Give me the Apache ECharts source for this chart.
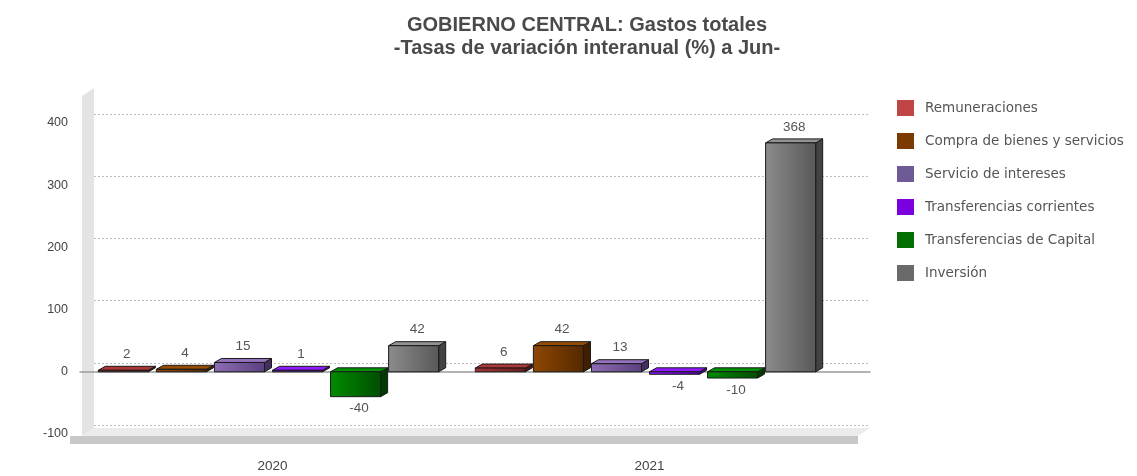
<!DOCTYPE html>
<html>
<head>
<meta charset="utf-8">
<script src="https://cdn.jsdelivr.net/npm/echarts@6/dist/echarts.min.js"></script>
<style>
  html, body { margin: 0; padding: 0; background: #fff; }
  #chart { width: 1137px; height: 476px; }
</style>
</head>
<body>
<div id="chart"></div>
<script>
var categories = ['2020', '2021'];
var seriesNames = ['Remuneraciones', 'Compra de bienes y servicios', 'Servicio de intereses',
                   'Transferencias corrientes', 'Transferencias de Capital', 'Inversión'];
var remuneraciones = [2, 6];
var compraBienes = [4, 42];
var servicioIntereses = [15, 13];
var transfCorrientes = [1, -4];
var transfCapital = [-40, -10];
var inversion = [42, 368];
var yTicks = [-100, 0, 100, 200, 300, 400];

var values = [remuneraciones, compraBienes, servicioIntereses, transfCorrientes, transfCapital, inversion];
// legend colour, front light, front dark
var palette = [
    ['#c04545', '#a83434', '#6a1c1c'],
    ['#7a3a00', '#8e4700', '#552800'],
    ['#6e5a96', '#8d6db4', '#5a4080'],
    ['#7a00e0', '#8a18ff', '#5500b0'],
    ['#006e00', '#008c00', '#004e00'],
    ['#6a6a6a', '#8c8c8c', '#585858']
];

function shade(hex, k) {
    var n = parseInt(hex.slice(1), 16);
    var r = Math.min(255, Math.round(((n >> 16) & 255) * k));
    var g = Math.min(255, Math.round(((n >> 8) & 255) * k));
    var b = Math.min(255, Math.round((n & 255) * k));
    return 'rgb(' + r + ',' + g + ',' + b + ')';
}

function barRenderer(idx) {
    var pal = palette[idx];
    return function (params, api) {
        var val = api.value(1);
        var base = api.coord([api.value(0), 0]);
        var end = api.coord([api.value(0), val]);
        var band = api.size([1, 0])[0];
        var slot = band * 0.154;
        var depth = 7, rise = 4;
        var fw = slot - depth - 1;
        var x0 = base[0] - 3 * slot + idx * slot;
        var yTop = Math.min(base[1], end[1]);
        var yBot = Math.max(base[1], end[1]);
        if (yBot - yTop < 1.5) { yTop = yBot - 1.5; }
        var stroke = { stroke: '#1a1a1a', lineWidth: 1 };
        var txtX = x0 + (fw + depth) / 2;
        var txtY = val >= 0 ? yTop - rise - 5 : yBot + 5;
        return {
            type: 'group',
            children: [
                {
                    type: 'polygon',
                    shape: { points: [[x0 + fw, yTop], [x0 + fw + depth, yTop - rise], [x0 + fw + depth, yBot - rise], [x0 + fw, yBot]] },
                    style: Object.assign({ fill: shade(pal[2], 0.75) }, stroke)
                },
                {
                    type: 'polygon',
                    shape: { points: [[x0, yTop], [x0 + depth, yTop - rise], [x0 + fw + depth, yTop - rise], [x0 + fw, yTop]] },
                    style: Object.assign({ fill: shade(pal[1], 1.05) }, stroke)
                },
                {
                    type: 'rect',
                    shape: { x: x0, y: yTop, width: fw, height: yBot - yTop },
                    style: Object.assign({
                        fill: new echarts.graphic.LinearGradient(0, 0, 1, 0, [
                            { offset: 0, color: pal[1] },
                            { offset: 1, color: pal[2] }
                        ])
                    }, stroke)
                },
                {
                    type: 'text',
                    style: {
                        x: txtX, y: txtY,
                        text: String(val),
                        fill: '#555',
                        font: '13.5px "Liberation Sans", Arial, sans-serif',
                        align: 'center',
                        verticalAlign: val >= 0 ? 'bottom' : 'top'
                    }
                }
            ]
        };
    };
}

var chart = echarts.init(document.getElementById('chart'));

var series = [];
for (var i = 0; i < seriesNames.length; i++) {
    series.push({
        name: seriesNames[i],
        type: 'custom',
        xAxisIndex: 0,
        yAxisIndex: 0,
        renderItem: barRenderer(i),
        itemStyle: { color: palette[i][0] },
        encode: { x: 0, y: 1 },
        data: values[i].map(function (v, j) { return [j, v]; }),
        z: 5
    });
}

var option = {
    backgroundColor: '#fff',
    animation: false,
    title: {
        text: 'GOBIERNO CENTRAL: Gastos totales\n-Tasas de variación interanual (%) a Jun-',
        left: 582,
        top: 9,
        textAlign: 'center',
        textStyle: {
            fontFamily: '"Liberation Sans", Arial, sans-serif',
            fontSize: 20,
            fontWeight: 'bold',
            color: '#4a4a4a',
            lineHeight: 23
        }
    },
    legend: {
        orient: 'vertical',
        left: 892,
        top: 95,
        icon: 'rect',
        itemWidth: 17,
        itemHeight: 16,
        itemGap: 17,
        textStyle: {
            fontFamily: '"DejaVu Sans", sans-serif',
            fontSize: 13.5,
            color: '#555',
            padding: [0, 0, 0, 6]
        },
        data: seriesNames
    },
    graphic: [
        // left wall
        {
            type: 'polygon', z: -1,
            shape: { points: [[82, 96], [94, 88], [94, 428], [82, 436]] },
            style: { fill: '#e4e4e4' }
        },
        // floor
        {
            type: 'polygon', z: -1,
            shape: { points: [[82, 436], [94, 428], [870, 428], [858, 436]] },
            style: { fill: '#ececec' }
        },
        {
            type: 'polygon', z: -1,
            shape: { points: [[70, 436], [858, 436], [858, 444], [70, 444]] },
            style: { fill: '#c8c8c8' }
        }
    ],
    grid: [
        { left: 84, right: 299, top: 123, bottom: 42 },   // bars
        { left: 94, right: 267, top: 114, bottom: 51 },   // back wall
        { left: 80, right: 267, top: 123, bottom: 42 }    // zero line
    ],
    xAxis: [
        {
            type: 'category', gridIndex: 0, data: categories,
            axisLine: { show: false }, axisTick: { show: false },
            axisLabel: { margin: 25, color: '#444', fontSize: 13.5, fontFamily: '"Liberation Sans", Arial, sans-serif' }
        },
        {
            type: 'category', gridIndex: 1, data: categories,
            axisLine: { show: false }, axisTick: { show: false }, axisLabel: { show: false }
        },
        {
            type: 'category', gridIndex: 2, data: categories,
            axisLine: { show: true, onZero: true, lineStyle: { color: '#9a9a9a', width: 1.5 } },
            axisTick: { show: false }, axisLabel: { show: false }
        }
    ],
    yAxis: [
        {
            type: 'value', gridIndex: 0, min: yTicks[0], max: yTicks[yTicks.length - 1], interval: 100,
            axisLine: { show: false }, axisTick: { show: false }, splitLine: { show: false },
            axisLabel: { margin: 16, color: '#444', fontSize: 12.5, fontFamily: '"Liberation Sans", Arial, sans-serif' }
        },
        {
            type: 'value', gridIndex: 1, min: yTicks[0], max: yTicks[yTicks.length - 1], interval: 100,
            axisLine: { show: false }, axisTick: { show: false }, axisLabel: { show: false },
            splitLine: { show: true, lineStyle: { color: '#bdbdbd', type: [2, 2], width: 1 } }
        },
        {
            type: 'value', gridIndex: 2, min: yTicks[0], max: yTicks[yTicks.length - 1], interval: 100,
            axisLine: { show: false }, axisTick: { show: false }, axisLabel: { show: false },
            splitLine: { show: false }
        }
    ],
    series: series
};

chart.setOption(option);
</script>
</body>
</html>
